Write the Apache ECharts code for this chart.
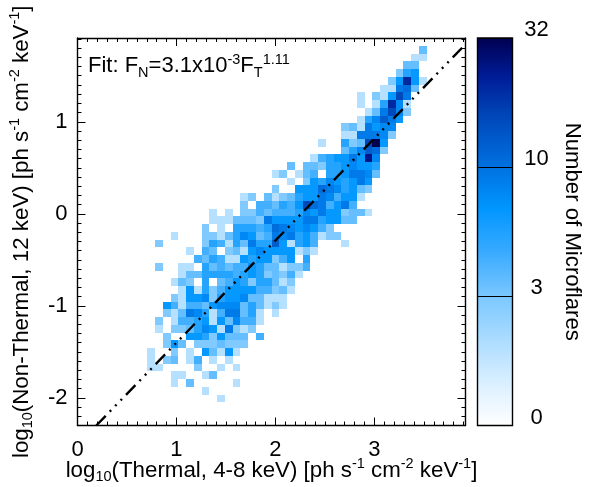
<!DOCTYPE html>
<html>
<head>
<meta charset="utf-8">
<style>html,body{margin:0;padding:0;background:#fff}#c{width:602px;height:487px}</style>
<script src="https://cdn.jsdelivr.net/npm/echarts@6/dist/echarts.min.js"></script>
</head>
<body>
<div id="c"></div>
<script>
// Histogram rows, top to bottom: [row, first column, counts...]; 0 = empty cell
const histogramRows = [
  [1, 44, 3],
  [2, 43, 1, 1],
  [3, 42, 3, 3],
  [4, 41, 2, 5, 6],
  [5, 40, 2, 6, 20, 6, 1],
  [6, 39, 1, 1, 8, 10, 3],
  [7, 36, 1, 0, 2, 1, 6, 15, 8],
  [8, 36, 1, 0, 1, 5, 20, 7, 1],
  [9, 37, 1, 3, 8, 15, 7, 2],
  [10, 36, 1, 5, 7, 12, 8, 6],
  [11, 34, 2, 3, 1, 8, 6, 7, 7],
  [12, 34, 1, 1, 8, 8, 8, 7, 2],
  [13, 31, 1, 0, 0, 5, 2, 3, 15, 32, 6],
  [14, 34, 3, 5, 7, 12, 10, 2],
  [15, 30, 1, 4, 5, 6, 6, 8, 6, 24, 7],
  [16, 27, 3, 0, 3, 3, 2, 5, 5, 6, 7, 6, 6, 5],
  [17, 25, 1, 2, 0, 1, 3, 4, 0, 5, 5, 6, 8, 8, 7, 3],
  [18, 27, 1, 0, 2, 6, 5, 7, 6, 5, 6, 8, 6],
  [19, 25, 2, 0, 0, 6, 6, 6, 10, 8, 7, 5, 6, 3, 2],
  [20, 21, 1, 2, 0, 3, 1, 2, 3, 5, 6, 6, 8, 7, 4, 6, 6, 1],
  [21, 21, 2, 0, 4, 4, 3, 5, 4, 6, 15, 10, 8, 4, 6, 8, 4],
  [22, 17, 1, 0, 1, 0, 2, 2, 4, 3, 4, 4, 4, 5, 7, 6, 8, 6, 6, 2, 3, 3, 1],
  [23, 17, 1, 1, 1, 3, 3, 3, 2, 8, 6, 6, 6, 6, 8, 8, 5, 6, 6, 3, 3],
  [24, 16, 2, 0, 1, 0, 5, 5, 5, 4, 5, 10, 8, 7, 6, 7, 6, 4, 2],
  [25, 12, 1, 0, 0, 0, 2, 2, 1, 3, 5, 7, 6, 3, 4, 8, 7, 8, 5, 6, 4, 1, 2, 2],
  [26, 10, 2, 0, 0, 0, 0, 0, 2, 5, 4, 1, 5, 3, 8, 5, 5, 12, 6, 1, 5, 6, 4, 0, 0, 0, 1],
  [27, 14, 1, 0, 4, 3, 0, 2, 3, 1, 6, 7, 6, 6, 6, 6, 1, 2, 1],
  [28, 15, 4, 3, 5, 4, 1, 1, 6, 5, 6, 6, 2, 4, 6, 0, 5],
  [29, 10, 2, 0, 0, 1, 1, 0, 5, 3, 4, 3, 4, 4, 6, 5, 3, 3, 1, 2, 2, 4],
  [30, 13, 1, 3, 3, 5, 5, 5, 5, 4, 5, 6, 5, 2, 3, 2, 4, 1],
  [31, 12, 1, 3, 2, 0, 5, 0, 3, 4, 6, 5, 2, 5, 5, 3, 1, 2],
  [32, 13, 1, 6, 1, 5, 2, 4, 6, 6, 6, 6, 4, 4, 2, 3, 1],
  [33, 12, 2, 1, 6, 6, 7, 2, 5, 6, 6, 7, 3, 3, 1, 1, 1],
  [34, 11, 6, 4, 1, 4, 4, 3, 6, 7, 7, 7, 3, 5, 3, 1, 2, 1],
  [35, 11, 2, 1, 3, 8, 7, 5, 1, 4, 8, 8, 3, 5, 1, 0, 1],
  [36, 10, 2, 0, 1, 4, 4, 5, 6, 1, 6, 3, 7, 4, 4, 1],
  [37, 10, 1, 0, 2, 2, 3, 5, 7, 6, 1, 8, 2, 1, 2],
  [38, 11, 2, 0, 0, 6, 6, 5, 2, 6, 3, 3, 3, 0, 4],
  [39, 11, 2, 6, 3, 0, 2, 2, 2, 3, 2, 2, 2],
  [40, 9, 1, 0, 0, 2, 0, 1, 0, 6, 3, 1, 6, 1],
  [41, 9, 1, 0, 2, 3, 0, 1, 4, 0, 1, 0, 1],
  [42, 9, 1, 1, 0, 0, 0, 0, 2, 0, 0, 1, 0, 1],
  [43, 12, 1, 1, 0, 0, 1, 3],
  [44, 12, 1, 0, 3, 0, 0, 0, 0, 0, 1],
  [45, 16, 1],
  [46, 18, 1]
];
const binsPerSide = 50;
const xRange = [0, 3.92];
const yRange = [-2.3, 1.91];
const xMajor = [0, 1, 2, 3];
const yMajor = [-2, -1, 0, 1];
const xMinorStart = 0, yMinorStart = -2.3, minorStep = 0.1;

// Fit line: log10 F_N = log10(3.1e-3) + 1.11 log10 F_T
const fitLine = [[0.19, -2.3], [3.92, 1.842]];

// Colour bar ticks and colours
const colorbarLabels = ['0', '3', '10', '32'];
const colorStops = [
  [0, '#ffffff'], [0.1, '#def1ff'], [0.2, '#b5e0ff'], [0.33, '#7cc8ff'], [0.45, '#38aaff'],
  [0.56, '#0096ff'], [0.67, '#0070e0'], [0.8, '#0046b8'], [0.9, '#001c96'], [1, '#000050']
];
const countLevels = [1, 2, 3, 4, 5, 6, 7, 8, 10, 12, 15, 20, 24, 32];
const countPositions = [0.2, 0.32, 0.37, 0.43, 0.49, 0.55, 0.6, 0.64, 0.68, 0.73, 0.79, 0.87, 0.92, 1];

function hex(c) { return [1, 3, 5].map(function (i) { return parseInt(c.substr(i, 2), 16); }); }
function colorAt(p) {
  for (let i = 1; i < colorStops.length; i++) {
    if (p <= colorStops[i][0]) {
      const a = colorStops[i - 1], b = colorStops[i], t = (p - a[0]) / (b[0] - a[0]);
      const ca = hex(a[1]), cb = hex(b[1]);
      return 'rgb(' + ca.map(function (v, k) { return Math.round(v + (cb[k] - v) * t); }).join(',') + ')';
    }
  }
  return colorStops[colorStops.length - 1][1];
}
function countColor(n) {
  let i = countLevels.indexOf(n);
  return colorAt(i < 0 ? 0 : countPositions[i]);
}

const dx = (xRange[1] - xRange[0]) / binsPerSide;
const dy = (yRange[1] - yRange[0]) / binsPerSide;
const cells = [];
histogramRows.forEach(function (r) {
  for (let i = 2; i < r.length; i++) {
    if (!r[i]) continue;
    const col = r[1] + i - 2;
    cells.push([xRange[0] + col * dx, yRange[1] - r[0] * dy, xRange[0] + (col + 1) * dx, yRange[1] - (r[0] + 1) * dy, r[i]]);
  }
});

function minorValues(start, end) {
  const out = [];
  for (let k = 0; start + k * minorStep <= end + 1e-9; k++) {
    out.push(+(start + k * minorStep).toFixed(3));
  }
  return out;
}
const xMinor = minorValues(xMinorStart, xRange[1]);
const yMinor = minorValues(yMinorStart, yRange[1]);

const font = '"Liberation Sans", Arial, sans-serif';
const lineStyle = { color: '#000', width: 1.4 };
const titleRich = {
  t: { fontFamily: font, fontSize: 22.3, fontWeight: 'normal', color: '#000', lineHeight: 28 },
  b: { fontFamily: font, fontSize: 14.5, fontWeight: 'normal', color: '#000', lineHeight: 28, verticalAlign: 'bottom', padding: [10, 0, 0, 0] },
  p: { fontFamily: font, fontSize: 14.5, fontWeight: 'normal', color: '#000', lineHeight: 28, verticalAlign: 'top', padding: [0, 0, 8, 0] }
};

function axisLayer(kind, position, values, length, showLine, showLabel) {
  const isX = kind === 'x';
  const range = isX ? xRange : yRange;
  return {
    type: 'value', gridIndex: 0, position: position, min: range[0], max: range[1],
    axisLine: { show: showLine, onZero: false, lineStyle: lineStyle },
    axisTick: { show: true, inside: true, length: length, customValues: values, lineStyle: { color: '#000', width: 1 } },
    axisLabel: showLabel
      ? { show: true, customValues: values, margin: isX ? 13 : 10, fontFamily: font, fontSize: 22, color: '#000', formatter: function (v) { return String(Math.round(v)); } }
      : { show: false },
    splitLine: { show: false }
  };
}

const xAxes = [
  Object.assign(axisLayer('x', 'bottom', xMajor, 8, true, true), {
    name: '{t|log}{b|10}{t|(Thermal, 4-8 keV) [ph s}{p|-1}{t| cm}{p|-2}{t| keV}{p|-1}{t|]}',
    nameLocation: 'middle', nameGap: 31, nameMoveOverlap: false, nameTextStyle: { rich: titleRich }
  }),
  axisLayer('x', 'top', xMajor, 8, true, false),
  axisLayer('x', 'bottom', xMinor, 4, false, false),
  axisLayer('x', 'top', xMinor, 4, false, false),
  { type: 'value', gridIndex: 1, min: 0, max: 1, show: false }
];
const yAxes = [
  Object.assign(axisLayer('y', 'left', yMajor, 8, true, true), {
    name: '{t|log}{b|10}{t|(Non-Thermal, 12 keV) [ph s}{p|-1}{t| cm}{p|-2}{t| keV}{p|-1}{t|]}',
    nameLocation: 'middle', nameGap: 42, nameRotate: 90, nameMoveOverlap: false, nameTextStyle: { rich: titleRich }
  }),
  axisLayer('y', 'right', yMajor, 8, true, false),
  axisLayer('y', 'left', yMinor, 4, false, false),
  axisLayer('y', 'right', yMinor, 4, false, false),
  {
    type: 'value', gridIndex: 1, position: 'right', min: 0, max: 3, interval: 1, z: 5,
    name: 'Number of Microflares', nameLocation: 'middle', nameGap: 49, nameRotate: -90, nameMoveOverlap: false,
    nameTextStyle: { fontFamily: font, fontSize: 22.2, color: '#000' },
    axisLine: { show: false }, axisTick: { show: false },
    splitLine: { show: true, lineStyle: { color: '#000', width: 1 } },
    axisLabel: {
      margin: 24, align: 'center', verticalAlign: 'bottom', lineHeight: 16, fontFamily: font, fontSize: 22, color: '#000',
      formatter: function (v) { return colorbarLabels[Math.round(v)]; }
    }
  }
];

const chart = echarts.init(document.getElementById('c'), null, { renderer: 'canvas' });
chart.setOption({
  animation: false,
  backgroundColor: '#fff',
  title: {
    left: 88, top: 52, padding: 0,
    text: '{t|Fit: F}{b|N}{t|=3.1x10}{p|-3}{t|F}{b|T}{p|1.11}',
    textStyle: { fontWeight: 'normal', rich: {
      t: { fontFamily: font, fontSize: 22, fontWeight: 'normal', color: '#000', lineHeight: 28 },
      b: { fontFamily: font, fontSize: 14.5, fontWeight: 'normal', color: '#000', lineHeight: 28, verticalAlign: 'bottom', padding: [10, 0, 0, 0] },
      p: { fontFamily: font, fontSize: 14.5, fontWeight: 'normal', color: '#000', lineHeight: 28, verticalAlign: 'top', padding: [0, 0, 8, 0] }
    } }
  },
  grid: [
    { left: 77.5, top: 38, width: 388, height: 387.5, outerBoundsMode: 'none', containLabel: false },
    { left: 477.5, top: 38, width: 35, height: 387.5, outerBoundsMode: 'none', containLabel: false }
  ],
  xAxis: xAxes,
  yAxis: yAxes,
  series: [
    {
      type: 'custom', xAxisIndex: 0, yAxisIndex: 0, data: cells, z: 1,
      encode: { x: [0, 2], y: [1, 3] }, silent: true,
      renderItem: function (params, api) {
        const a = api.coord([api.value(0), api.value(1)]);
        const b = api.coord([api.value(2), api.value(3)]);
        const x0 = Math.round(a[0]), y0 = Math.round(a[1]), x1 = Math.round(b[0]), y1 = Math.round(b[1]);
        return { type: 'rect', shape: { x: x0, y: y0, width: x1 - x0, height: y1 - y0 }, style: { fill: countColor(api.value(4)) } };
      }
    },
    {
      type: 'line', xAxisIndex: 0, yAxisIndex: 0, data: fitLine, z: 3, symbol: 'none', silent: true, clip: true,
      lineStyle: { color: '#000', width: 2.4, type: [13.5, 5.8, 2, 5.8, 2, 5.8, 2, 5.8] }
    },
    {
      type: 'custom', xAxisIndex: 4, yAxisIndex: 4, data: [[0, 3, 1, 0]], z: 1, silent: true,
      encode: { x: [0, 2], y: [1, 3] },
      renderItem: function (params, api) {
        const a = api.coord([api.value(0), api.value(1)]);
        const b = api.coord([api.value(2), api.value(3)]);
        return {
          type: 'rect', shape: { x: a[0], y: a[1], width: b[0] - a[0], height: b[1] - a[1] },
          style: {
            stroke: '#000', lineWidth: 1.4,
            fill: new echarts.graphic.LinearGradient(0, 1, 0, 0, colorStops.map(function (s) { return { offset: s[0], color: s[1] }; }))
          }
        };
      }
    }
  ]
});
</script>
</body>
</html>
